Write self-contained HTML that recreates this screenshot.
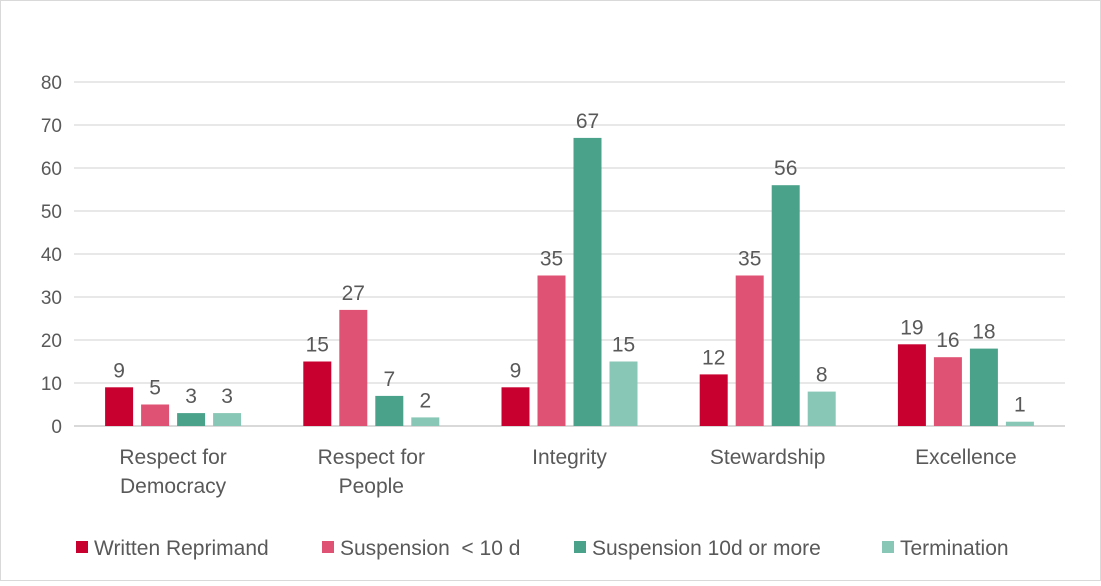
<!DOCTYPE html>
<html><head><meta charset="utf-8"><style>
body{margin:0;background:#fff}
svg{font-family:"Liberation Sans",sans-serif;fill:#595959}
</style></head><body>
<svg width="1101" height="581" viewBox="0 0 1101 581" xmlns="http://www.w3.org/2000/svg">
<rect x="0.5" y="0.5" width="1100" height="580" fill="#fff" stroke="#d9d9d9"/>
<g id="grid"></g><g id="bars"></g><g id="labels"></g><g id="legend"></g>
</svg>
<script>
const categories=[["Respect for","Democracy"],["Respect for","People"],["Integrity"],["Stewardship"],["Excellence"]];
const seriesNames=["Written Reprimand","Suspension  < 10 d","Suspension 10d or more","Termination"];
const written=[9,15,9,12,19];
const suspShort=[5,27,35,35,16];
const suspLong=[3,7,67,56,18];
const termination=[3,2,15,8,1];
const yTicks=[0,10,20,30,40,50,60,70,80];
const colors=["#C8002F","#E05273","#4BA28A","#88C6B5"];
const series=[written,suspShort,suspLong,termination];
const NS="http://www.w3.org/2000/svg";
const x0=74,x1=1065,y0=426,yTop=82,yMax=80;
const y=v=>y0-(v/yMax)*(y0-yTop);
const bw=(x1-x0)/categories.length;
function mk(t,a,p,txt){const e=document.createElementNS(NS,t);for(const k in a)e.setAttribute(k,a[k]);if(txt!=null)e.textContent=txt;p.appendChild(e);return e;}
const grid=document.getElementById('grid'),bars=document.getElementById('bars'),labels=document.getElementById('labels'),legend=document.getElementById('legend');
yTicks.forEach(t=>{
 const l=mk('line',{x1:x0,x2:x1,y1:y(t),y2:y(t),stroke:"#d9d9d9","stroke-width":t===0?2:1.3},grid);
 
 
 const tx=mk('text',{x:62,y:y(t)+7,"text-anchor":"end","font-size":19},labels,t);
 
 
});
categories.forEach((c,i)=>{
 const cx=x0+bw*(i+0.5);
 series.forEach((s,j)=>{
  const bx=cx-68+j*36, v=s[i];
  const r=mk('rect',{x:bx,y:y(v),width:28,height:y0-y(v),fill:colors[j]},bars);
  
  
  const vt=mk('text',{x:bx+14,y:y(v)-10,"text-anchor":"middle","font-size":21},labels,v);
  
  
 });
 c.forEach((line,k)=>{
  const ct=mk('text',{x:cx,y:464+k*29,"text-anchor":"middle","font-size":21},labels,line);
  
  
 });
});
const lx=[76,322,574,882];
seriesNames.forEach((n,j)=>{
 const g=mk('g',{},legend);
 
 
 mk('rect',{x:lx[j],y:541,width:12,height:12,fill:colors[j]},g);
 const t=mk('text',{x:lx[j]+18,y:555,"font-size":21,"xml:space":"preserve"},g,n);
 t.style.whiteSpace='pre';
});
</script>
</body></html>
